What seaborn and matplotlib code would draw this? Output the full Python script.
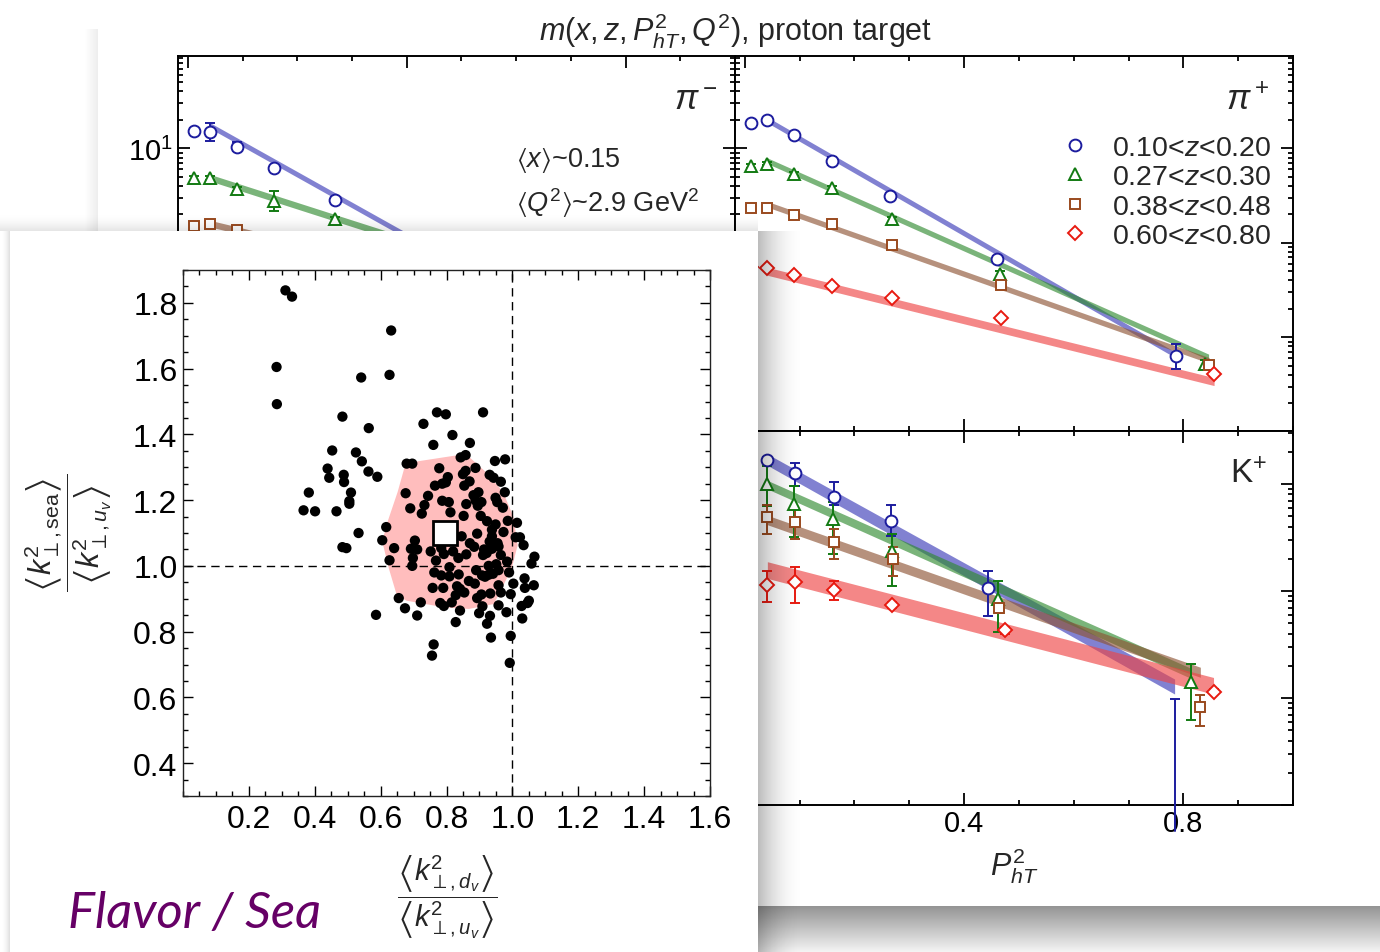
import numpy as np
import pandas as pd
import matplotlib
matplotlib.use("Agg")
import matplotlib.pyplot as plt
import seaborn as sns
from matplotlib.ticker import LogLocator, MultipleLocator, FuncFormatter, NullFormatter
from matplotlib.lines import Line2D
from matplotlib.patches import Rectangle

# ---------------- data: background panels (P_hT^2 dependence) ----------------
Z_LABELS = [r"0.10<$z$<0.20", r"0.27<$z$<0.30", r"0.38<$z$<0.48", r"0.60<$z$<0.80"]
SERIES = ["blue", "green", "brown", "red"]

# pi- (upper left), only the part not hidden by the inset
PIM_X_BLUE = [0.011, 0.040, 0.090, 0.158, 0.269]
PIM_Y_BLUE = [15.2, 14.8, 10.4, 6.2, 2.85]
PIM_E_BLUE = [0.07, 0.25, 0.12, 0.06, 0.07]
PIM_X_GREEN = [0.011, 0.040, 0.090, 0.158, 0.269]
PIM_Y_GREEN = [4.8, 4.9, 3.75, 2.77, 1.77]
PIM_E_GREEN = [0.06, 0.05, 0.05, 0.27, 0.06]
PIM_X_BROWN = [0.011, 0.040, 0.090]
PIM_Y_BROWN = [1.50, 1.57, 1.37]
PIM_E_BROWN = [0.04, 0.04, 0.04]
PIM_BAND_X = [[0.040, 0.78], [0.040, 0.84], [0.040, 0.85]]
PIM_BAND_C = [[17.5, 0.07], [4.9, 0.16], [1.6, 0.12]]
PIM_BAND_H = [0.03, 0.035, 0.035]

# pi+ (upper right)
PIP_X_BLUE = [0.011, 0.041, 0.090, 0.159, 0.265, 0.460, 0.786]
PIP_Y_BLUE = [18.5, 20.0, 14.0, 7.3, 3.1, 0.68, 0.063]
PIP_E_BLUE = [0.06, 0.05, 0.07, 0.10, 0.10, 0.08, 0.35]
PIP_X_GREEN = [0.011, 0.041, 0.090, 0.159, 0.268, 0.466, 0.840]
PIP_Y_GREEN = [6.5, 6.9, 5.3, 3.8, 1.77, 0.47, 0.052]
PIP_E_GREEN = [0.04, 0.04, 0.05, 0.05, 0.06, 0.08, 0.10]
PIP_X_BROWN = [0.011, 0.041, 0.090, 0.159, 0.268, 0.467, 0.847]
PIP_Y_BROWN = [2.32, 2.36, 1.97, 1.59, 0.94, 0.36, 0.051]
PIP_E_BROWN = [0.03, 0.03, 0.03, 0.04, 0.04, 0.05, 0.06]
PIP_X_RED = [0.011, 0.041, 0.090, 0.159, 0.269, 0.468, 0.856]
PIP_Y_RED = [0.55, 0.54, 0.46, 0.35, 0.26, 0.16, 0.041]
PIP_E_RED = [0.03, 0.03, 0.03, 0.04, 0.04, 0.05, 0.06]
PIP_BAND_X = [[0.041, 0.780], [0.041, 0.846], [0.041, 0.847], [0.041, 0.856]]
PIP_BAND_C = [[20.0, 0.068], [7.4, 0.062], [2.56, 0.057], [0.50, 0.034]]
PIP_BAND_H = [0.03, 0.03, 0.03, 0.042]

# K+ (lower right)
K_X_BLUE = [0.041, 0.092, 0.162, 0.267, 0.444, 0.784]
K_Y_BLUE = [16.9, 12.6, 7.5, 4.54, 1.06, 0.007]
K_LO_BLUE = [16.0, 9.6, 6.3, 3.29, 0.58, 0.0057]
K_HI_BLUE = [17.8, 15.6, 10.5, 6.3, 1.55, 0.098]
K_X_GREEN = [0.041, 0.090, 0.160, 0.268, 0.462, 0.814]
K_Y_GREEN = [10.0, 6.5, 4.71, 2.38, 0.84, 0.14]
K_LO_GREEN = [6.27, 3.18, 2.2, 1.12, 0.41, 0.062]
K_HI_GREEN = [14.8, 9.6, 6.8, 3.4, 1.23, 0.209]
K_X_BROWN = [0.041, 0.092, 0.162, 0.270, 0.463, 0.831]
K_Y_BROWN = [4.89, 4.39, 2.85, 1.99, 0.69, 0.082]
K_LO_BROWN = [3.41, 3.06, 1.99, 1.39, 0.62, 0.055]
K_HI_BROWN = [6.4, 5.8, 3.79, 2.56, 0.77, 0.107]
K_X_RED = [0.041, 0.092, 0.162, 0.268, 0.474, 0.855]
K_Y_RED = [1.15, 1.22, 1.03, 0.745, 0.43, 0.115]
K_LO_RED = [0.79, 0.77, 0.83, 0.70, 0.40, 0.108]
K_HI_RED = [1.53, 1.69, 1.25, 0.79, 0.46, 0.122]
K_BAND_X = [[0.041, 0.784], [0.041, 0.814], [0.041, 0.831], [0.041, 0.855]]
K_BAND_C = [[16.9, 0.128], [9.86, 0.17], [4.61, 0.174], [1.57, 0.13]]
K_BAND_H = [[0.053, 0.07], [0.04, 0.047], [0.044, 0.047], [0.078, 0.078]]

# ---------------- data: inset scatter (flavor / sea) ----------------
DOT_X = [0.311, 0.331, 0.632, 0.284, 0.627, 0.541, 0.285, 0.484, 0.771, 0.798,
         0.911, 0.564, 0.730, 0.818, 0.453, 0.760, 0.871, 0.525, 0.543, 0.439,
         0.488, 0.444, 0.563, 0.590, 0.489, 0.382, 0.510, 0.505, 0.505, 0.366,
         0.401, 0.466, 0.533, 0.484, 0.496, 0.586, 0.761, 0.756, 0.992, 0.995,
         0.935, 0.923, 0.828, 1.030, 0.982, 0.932, 0.899, 0.909, 0.958, 1.028,
         1.050, 1.046, 1.065, 1.038, 1.037, 1.003, 0.995, 1.058, 1.067, 1.034,
         1.010, 1.023, 1.014, 0.978, 0.947, 0.655, 0.674, 0.711, 0.722,
         0.858, 0.843, 0.679, 0.696, 0.778, 0.888, 0.858, 0.850, 0.804, 0.798,
         0.787, 0.931, 0.943, 0.965, 0.870, 0.854, 0.765, 0.676, 0.977, 0.744,
         0.882, 0.897, 0.949, 0.954, 0.971, 0.787, 0.807, 0.733, 0.690, 0.860,
         0.888, 0.906, 0.895, 0.725, 0.812, 0.852, 0.904, 0.923, 0.949, 0.986,
         0.617, 0.938, 0.973, 0.893, 0.846, 0.938, 0.605, 0.704, 0.931, 0.955,
         0.871, 0.884, 0.641, 0.692, 0.711, 0.784, 0.752, 0.792, 0.820, 0.860,
         0.914, 0.938, 0.958, 0.965, 0.911, 0.922, 0.698, 0.836, 0.627, 0.768,
         0.984, 0.951, 0.928, 0.696, 0.809, 0.958, 0.890, 0.763, 0.990, 0.784,
         0.809, 0.837, 0.908, 0.928, 0.941, 0.917, 0.868, 0.886, 0.958, 0.758,
         0.790, 0.832, 0.841, 0.854, 0.965, 0.933, 0.828, 0.906, 0.893, 0.781,
         0.792, 0.816, 0.841]
DOT_Y = [1.838, 1.819, 1.716, 1.605, 1.581, 1.573, 1.492, 1.454, 1.467, 1.461,
         1.467, 1.419, 1.432, 1.398, 1.351, 1.368, 1.374, 1.345, 1.318, 1.296,
         1.277, 1.268, 1.287, 1.271, 1.255, 1.223, 1.223, 1.197, 1.189, 1.169,
         1.166, 1.166, 1.100, 1.057, 1.054, 0.851, 0.761, 0.727, 0.705, 0.787,
         0.782, 0.824, 0.829, 0.840, 0.859, 0.848, 0.856, 0.877, 0.880, 0.878,
         0.894, 0.887, 0.941, 0.933, 0.962, 0.946, 0.914, 1.007, 1.028, 1.063,
         1.087, 1.087, 1.131, 1.324, 1.319, 0.902, 0.871, 0.849, 0.889,
         1.337, 1.330, 1.311, 1.311, 1.297, 1.298, 1.289, 1.279, 1.270, 1.254,
         1.250, 1.277, 1.268, 1.256, 1.257, 1.244, 1.244, 1.221, 1.224, 1.213,
         1.215, 1.224, 1.207, 1.194, 1.177, 1.198, 1.194, 1.185, 1.175, 1.188,
         1.199, 1.194, 1.183, 1.159, 1.163, 1.152, 1.152, 1.136, 1.126, 1.137,
         1.118, 1.110, 1.103, 1.098, 1.090, 1.090, 1.078, 1.077, 1.074, 1.069,
         1.069, 1.058, 1.054, 1.052, 1.050, 1.054, 1.044, 1.036, 1.044, 1.035,
         1.050, 1.052, 1.059, 1.033, 1.033, 1.039, 1.024, 1.024, 1.017, 1.016,
         1.013, 1.005, 1.000, 1.000, 0.996, 0.987, 0.987, 0.980, 0.980, 0.971,
         0.968, 0.974, 0.971, 0.973, 0.976, 0.967, 0.954, 0.946, 0.941, 0.933,
         0.933, 0.938, 0.930, 0.919, 0.919, 0.916, 0.911, 0.913, 0.902, 0.887,
         0.878, 0.889, 0.864]
HULL_X = [0.674, 0.706, 0.836, 0.868, 0.922, 0.971, 1.003, 1.016, 0.998, 0.971,
          0.944, 0.868, 0.798, 0.679, 0.649, 0.625, 0.605, 0.619, 0.652]
HULL_Y = [1.305, 1.317, 1.337, 1.332, 1.283, 1.226, 1.150, 1.063, 0.992, 0.938,
          0.884, 0.869, 0.873, 0.894, 0.911, 0.992, 1.074, 1.128, 1.226]
MEAN_X = [0.795]
MEAN_Y = [1.10]
INSET_XTICKS = [0.2, 0.4, 0.6, 0.8, 1.0, 1.2, 1.4, 1.6]
INSET_YTICKS = [0.4, 0.6, 0.8, 1.0, 1.2, 1.4, 1.6, 1.8]

# ---------------- style ----------------
sns.set_style("ticks")
plt.rcParams['font.family'] = ['Liberation Sans', 'DejaVu Sans']
plt.rcParams['mathtext.fontset'] = 'custom'
plt.rcParams['mathtext.rm'] = 'Liberation Sans'
plt.rcParams['mathtext.it'] = 'Liberation Sans:italic'
plt.rcParams['mathtext.bf'] = 'Liberation Sans:bold'
plt.rcParams['mathtext.sf'] = 'Liberation Sans'
plt.rcParams['mathtext.fallback'] = 'stixsans'

W, H = 1380, 953


def box(x0, y0, x1, y1):
    return [x0 / W, 1 - y1 / H, (x1 - x0) / W, (y1 - y0) / H]


COLORS = {'blue': '#1c1c9e', 'green': '#127a12', 'brown': '#9a4a1e', 'red': '#e81a10'}
BAND = {'blue': '#3a3ab8', 'green': '#2f8a2f', 'brown': '#8e5434', 'red': '#ee4444'}
MARK = {'blue': 'o', 'green': '^', 'brown': 's', 'red': 'D'}
MS = {'blue': 8.5, 'green': 8.5, 'brown': 7.5, 'red': 7.5}

fig = plt.figure(figsize=(13.8, 9.53), dpi=100)
fig.patch.set_facecolor('white')


def overlay(z):
    a = fig.add_axes([0, 0, 1, 1], zorder=z)
    a.set_xlim(0, W)
    a.set_ylim(H, 0)
    a.axis('off')
    return a


def shade(a, x0, x1, y0, y1, alphas, horizontal, gray=0.0):
    al = np.asarray(alphas, dtype=float)
    if horizontal:
        img = np.zeros((1, al.size, 4))
        img[0, :, 3] = al
    else:
        img = np.zeros((al.size, 1, 4))
        img[:, 0, 3] = al
    img[..., :3] = gray
    a.imshow(img, extent=[x0, x1, y1, y0], origin='upper', aspect='auto',
             interpolation='bilinear', zorder=1)


# back card shadows
ov0 = overlay(0)
shade(ov0, 98, W, 907, H, np.linspace(0.42, 0.05, 40), horizontal=False)
shade(ov0, 84, 98, 30, 907, np.linspace(0.0, 0.07, 20), horizontal=True)
ov0.set_xlim(0, W)
ov0.set_ylim(H, 0)


def log_label(v, p):
    return r"$10^{1}$" if abs(v - 10) < 1e-6 else ""


def style_ax(ax, ylim):
    ax.set_yscale('log')
    ax.set_xlim(-0.018, 1.0)
    ax.set_ylim(*ylim)
    ax.xaxis.set_major_locator(MultipleLocator(0.4))
    ax.xaxis.set_minor_locator(MultipleLocator(0.1))
    ax.yaxis.set_major_locator(LogLocator(base=10))
    ax.yaxis.set_minor_locator(LogLocator(base=10, subs=np.arange(2, 10)))
    ax.yaxis.set_major_formatter(FuncFormatter(log_label))
    ax.yaxis.set_minor_formatter(NullFormatter())
    ax.tick_params(which='both', direction='in', top=True, right=True,
                   width=1.3, colors='black', labelsize=21)
    ax.tick_params(which='major', length=8.5)
    ax.tick_params(which='minor', length=3.8)
    for s in ax.spines.values():
        s.set_linewidth(1.4)
        s.set_color('black')
    ax.set_facecolor('white')


def band(ax, key, xs, cs, hs):
    x = np.asarray(xs, float)
    c = np.asarray(cs, float)
    h = np.asarray(hs, float) * np.ones(2)
    ax.fill_between(x, c / 10 ** h, c * 10 ** h, color=BAND[key], alpha=0.64,
                    lw=0, zorder=2)


def points(ax, key, x, y, lo, hi):
    y = np.asarray(y, float)
    ax.errorbar(x, y, yerr=[y - np.asarray(lo), np.asarray(hi) - y], fmt=MARK[key],
                ms=MS[key], mfc='white', mec=COLORS[key], mew=1.4,
                ecolor=COLORS[key], elinewidth=1.4, capsize=3.5, capthick=1.4,
                zorder=3)


def points_rel(ax, key, x, y, e):
    y = np.asarray(y, float)
    e = np.asarray(e, float)
    points(ax, key, x, y, y / (1 + e), y * (1 + e))


UP_LIM = (0.0102, 95.0)
LO_LIM = (0.01, 31.3)

ax_ul = fig.add_axes(box(178, 57, 735, 432), zorder=1)
ax_ur = fig.add_axes(box(735, 57, 1293, 432), zorder=1)
ax_lr = fig.add_axes(box(735, 432, 1293, 806), zorder=1)
for a, lim in [(ax_ul, UP_LIM), (ax_ur, UP_LIM), (ax_lr, LO_LIM)]:
    style_ax(a, lim)
ax_ul.tick_params(labelbottom=False)
ax_ur.tick_params(labelbottom=False, labelleft=False)
ax_lr.tick_params(labelleft=False)
ax_lr.xaxis.set_major_formatter(FuncFormatter(lambda v, p: '0' if abs(v) < 1e-9 else f'{v:.1f}'))
ax_lr.tick_params(axis='x', which='major', pad=3)

# pi-
for i, key in enumerate(['blue', 'green', 'brown']):
    band(ax_ul, key, PIM_BAND_X[i], PIM_BAND_C[i], PIM_BAND_H[i])
points_rel(ax_ul, 'blue', PIM_X_BLUE, PIM_Y_BLUE, PIM_E_BLUE)
points_rel(ax_ul, 'green', PIM_X_GREEN, PIM_Y_GREEN, PIM_E_GREEN)
points_rel(ax_ul, 'brown', PIM_X_BROWN, PIM_Y_BROWN, PIM_E_BROWN)
ax_ul.text(0.93, 0.885, r"$\pi^-$", transform=ax_ul.transAxes, fontsize=25, ha='center', va='center')
ax_ul.text(0.607, 0.725, r"$\langle x\rangle$~0.15", transform=ax_ul.transAxes, fontsize=19.5, ha='left', va='center')
ax_ul.text(0.607, 0.61, r"$\langle Q^2\rangle$~2.9 GeV$^2$", transform=ax_ul.transAxes, fontsize=19.5, ha='left', va='center')

# pi+
for i, key in enumerate(SERIES):
    band(ax_ur, key, PIP_BAND_X[i], PIP_BAND_C[i], PIP_BAND_H[i])
points_rel(ax_ur, 'blue', PIP_X_BLUE, PIP_Y_BLUE, PIP_E_BLUE)
points_rel(ax_ur, 'green', PIP_X_GREEN, PIP_Y_GREEN, PIP_E_GREEN)
points_rel(ax_ur, 'brown', PIP_X_BROWN, PIP_Y_BROWN, PIP_E_BROWN)
points_rel(ax_ur, 'red', PIP_X_RED, PIP_Y_RED, PIP_E_RED)
ax_ur.text(0.92, 0.885, r"$\pi^+$", transform=ax_ur.transAxes, fontsize=25, ha='center', va='center')
handles = [Line2D([], [], ls='none', marker=MARK[k], ms=MS[k], mfc='white',
                  mec=COLORS[k], mew=1.4) for k in SERIES]
ax_ur.legend(handles, Z_LABELS, loc='upper right', bbox_to_anchor=(0.962, 0.79),
             frameon=False, fontsize=20.5, handlelength=0.8, handletextpad=0.9,
             labelspacing=0.12, borderaxespad=0, borderpad=0)

# K+
for i, key in enumerate(SERIES):
    band(ax_lr, key, K_BAND_X[i], K_BAND_C[i], K_BAND_H[i])
points(ax_lr, 'blue', K_X_BLUE, K_Y_BLUE, K_LO_BLUE, K_HI_BLUE)
points(ax_lr, 'green', K_X_GREEN, K_Y_GREEN, K_LO_GREEN, K_HI_GREEN)
points(ax_lr, 'brown', K_X_BROWN, K_Y_BROWN, K_LO_BROWN, K_HI_BROWN)
points(ax_lr, 'red', K_X_RED, K_Y_RED, K_LO_RED, K_HI_RED)
ax_lr.plot([K_X_BLUE[-1]] * 2, [K_LO_BLUE[-1], LO_LIM[0]], color=COLORS['blue'],
           lw=1.4, clip_on=False, zorder=3)
ax_lr.text(0.92, 0.885, r"K$^{+}$", transform=ax_lr.transAxes, fontsize=24, ha='center', va='center')
ax_lr.set_xlabel(r"$P^2_{hT}$", fontsize=22, labelpad=6)

fig.text(735.5 / W, 1 - 31 / H, r"$m(x,z,P^2_{hT},Q^2)$, proton target",
         ha='center', va='center', fontsize=22, zorder=2)

# inset card with shadows
ov1 = overlay(4)
shade(ov1, 758, 806, 232, H, np.linspace(1, 0, 30) ** 2 * 0.26, horizontal=True)
shade(ov1, 0, 758, 212, 232, np.linspace(0, 1, 12) ** 2 * 0.10, horizontal=False)
shade(ov1, 0, 10, 232, H, np.linspace(0, 1, 10) ** 2 * 0.12, horizontal=True)
ov1.add_patch(Rectangle((10, 232), 748, H - 232, facecolor='white', edgecolor='none', zorder=3))
ov1.set_xlim(0, W)
ov1.set_ylim(H, 0)

ax_in = fig.add_axes(box(183, 271, 710, 797), zorder=6)
ax_in.fill(HULL_X, HULL_Y, color='#ffbdbd', lw=0, zorder=1)
ax_in.axvline(1.0, color='black', lw=1.0, dashes=(6, 4), zorder=2)
ax_in.axhline(1.0, color='black', lw=1.0, dashes=(6, 4), zorder=2)
df = pd.DataFrame({'x': DOT_X, 'y': DOT_Y})
sns.scatterplot(data=df, x='x', y='y', ax=ax_in, color='black', s=55,
                edgecolor='none', linewidth=0, zorder=3, legend=False)
ax_in.plot(MEAN_X, MEAN_Y, ls='none', marker='s', ms=17, mfc='white',
           mec='black', mew=2.0, zorder=4)
ax_in.set_xlim(0.0, 1.6)
ax_in.set_ylim(0.3, 1.9)
ax_in.set_xticks(INSET_XTICKS)
ax_in.set_yticks(INSET_YTICKS)
ax_in.xaxis.set_minor_locator(MultipleLocator(0.05))
ax_in.yaxis.set_minor_locator(MultipleLocator(0.05))
ax_in.set_xticklabels([f'{v:.1f}' for v in INSET_XTICKS])
ax_in.set_yticklabels([f'{v:.1f}' for v in INSET_YTICKS])
ax_in.tick_params(which='both', direction='in', top=True, right=True,
                  width=1.0, colors='black', labelsize=23)
ax_in.tick_params(which='major', length=7)
ax_in.tick_params(which='minor', length=3.5)
ax_in.tick_params(axis='x', pad=6)
ax_in.tick_params(axis='y', pad=4)
ax_in.set_xlabel('')
ax_in.set_ylabel('')
for s in ax_in.spines.values():
    s.set_linewidth(1.0)
    s.set_color('#222222')
ax_in.set_facecolor('white')

fig.text(447 / W, 1 - 897 / H,
         r"$\dfrac{\left\langle k^2_{\perp,d_v}\right\rangle}{\left\langle k^2_{\perp,u_v}\right\rangle}$",
         ha='center', va='center', fontsize=21, zorder=20)
fig.text(68 / W, 1 - 533 / H,
         r"$\dfrac{\left\langle k^2_{\perp,\mathrm{sea}}\right\rangle}{\left\langle k^2_{\perp,u_v}\right\rangle}$",
         ha='center', va='center', rotation=90, fontsize=22, zorder=20)
fig.text(68 / W, 1 - 928 / H, "Flavor / Sea", family=['Lato', 'DejaVu Sans'],
         style='italic', fontsize=36.5, color='#660066', ha='left', va='baseline', zorder=20)

fig.savefig('out.png', dpi=100, facecolor='white')
